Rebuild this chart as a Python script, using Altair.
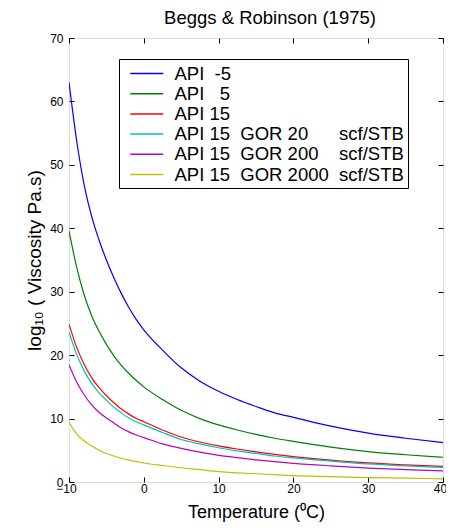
import altair as alt
import pandas as pd

# ---- data ----
temps = [-10, -9, -8, -7, -6, -5, -4, -3, -2, -1, 0, 2.5, 5, 7.5, 10, 12.5, 15, 17.5, 20, 25, 30, 35, 40]

api_m5 = [63.0, 54.0, 47.0, 42.0, 38.2, 35.0, 32.2, 29.7, 27.5, 25.6, 24.0, 20.8, 18.0, 15.9, 14.3, 13.0, 11.9, 10.9, 10.2, 8.8, 7.7, 6.9, 6.2]
api_5 = [39.6, 34.0, 29.6, 26.3, 23.8, 21.7, 19.9, 18.4, 17.1, 16.0, 15.0, 13.0, 11.3, 10.0, 9.0, 8.2, 7.5, 6.9, 6.4, 5.5, 4.8, 4.3, 3.9]
api_15 = [24.9, 21.3, 18.6, 16.5, 14.9, 13.6, 12.5, 11.5, 10.7, 10.0, 9.5, 8.2, 7.1, 6.3, 5.7, 5.2, 4.75, 4.35, 4.0, 3.45, 3.0, 2.7, 2.45]
gor_20 = [23.6, 20.2, 17.6, 15.6, 14.1, 12.9, 11.8, 10.9, 10.1, 9.5, 9.0, 7.8, 6.7, 6.0, 5.4, 4.9, 4.5, 4.1, 3.8, 3.3, 2.85, 2.55, 2.3]
gor_200 = [18.5, 15.8, 13.8, 12.2, 11.0, 10.1, 9.3, 8.5, 7.9, 7.4, 7.0, 6.0, 5.3, 4.7, 4.2, 3.85, 3.5, 3.2, 2.95, 2.55, 2.2, 1.95, 1.75]
gor_2000 = [9.4, 7.6, 6.5, 5.7, 5.0, 4.5, 4.1, 3.75, 3.45, 3.2, 3.0, 2.6, 2.25, 1.95, 1.65, 1.45, 1.3, 1.15, 1.0, 0.85, 0.7, 0.6, 0.5]

NB = "\u00a0"
series_names = [
    "API" + NB * 2 + "-5",
    "API" + NB * 3 + "5",
    "API 15",
    "API 15" + NB * 2 + "GOR 20" + NB * 6 + "scf/STB",
    "API 15" + NB * 2 + "GOR 200" + NB * 4 + "scf/STB",
    "API 15" + NB * 2 + "GOR 2000" + NB * 2 + "scf/STB",
]
series_values = [api_m5, api_5, api_15, gor_20, gor_200, gor_2000]
colors = ["#0000ff", "#008000", "#ff0000", "#00bfbf", "#bf00bf", "#bfbf00"]

x_ticks = [-10, 0, 10, 20, 30, 40]
y_ticks = [0, 10, 20, 30, 40, 50, 60, 70]

rows = []
for name, vals in zip(series_names, series_values):
    for t, v in zip(temps, vals):
        rows.append({"T": t, "V": v, "series": name})
df = pd.DataFrame(rows)

W, H = 374, 444
FONT = "Liberation Sans"
xs = alt.Scale(domain=[-10, 40], nice=False, zero=False)
ys = alt.Scale(domain=[0, 70], nice=False, zero=False)

lines = alt.Chart(df).mark_line(strokeWidth=1.2, interpolate="monotone", clip=True).encode(
    x=alt.X("T:Q", scale=xs, axis=alt.Axis(
        orient="bottom", values=x_ticks, ticks=False, tickSize=0, domain=False, grid=False,
        labelPadding=1, labelFontSize=12, labelFont=FONT, labelColor="black", labelFlush=False,
        labelOffset={"condition": {"test": "datum.value == 40 || datum.value == -10", "value": -3}, "value": 0},
        title="Temperature (\u2070C)", titleFont=FONT, titleFontSize=18, titleFontWeight="normal",
        titleColor="black", titlePadding=9)),
    y=alt.Y("V:Q", scale=ys, axis=alt.Axis(
        orient="left", values=y_ticks, ticks=False, tickSize=0, domain=False, grid=False,
        labelPadding=6, labelFontSize=12, labelFont=FONT, labelColor="black", labelFlush=False,
        title="log\u2081\u2080 ( Viscosity Pa.s)", titleFont=FONT, titleFontSize=19,
        titleFontWeight="normal", titleColor="black", titlePadding=5)),
    color=alt.Color("series:N", sort=series_names,
                    scale=alt.Scale(domain=series_names, range=colors),
                    legend=alt.Legend(
                        title=None, orient="none", legendX=50, legendY=21, direction="vertical",
                        symbolType="M-0.342,0L3.132,0", symbolSize=361, symbolStrokeWidth=1.5,
                        labelFontSize=18.5, labelFont=FONT, labelColor="black", labelOffset=30.5,
                        labelLimit=500, padding=4, rowPadding=0.2,
                        strokeColor="black", fillColor="white")),
)

ghost = alt.Chart(df).mark_point(opacity=0)
ghost1 = ghost.encode(
    x=alt.X("T:Q", scale=xs, axis=alt.Axis(orient="top", offset=-H, values=x_ticks, labels=False,
                                           domain=False, grid=False, tickSize=5, tickColor="black", title=None)),
    y=alt.Y("V:Q", scale=ys, axis=alt.Axis(orient="right", offset=-W, values=y_ticks, labels=False,
                                           domain=False, grid=False, tickSize=5, tickColor="black", title=None)),
)
ghost2 = ghost.encode(
    x=alt.X("T:Q", scale=xs, axis=alt.Axis(orient="bottom", offset=-H, values=x_ticks, labels=False,
                                           domain=False, grid=False, tickSize=5, tickColor="black", title=None)),
    y=alt.Y("V:Q", scale=ys, axis=alt.Axis(orient="left", offset=-W, values=y_ticks, labels=False,
                                           domain=False, grid=False, tickSize=5, tickColor="black", title=None)),
)

chart = alt.layer(lines, ghost1, ghost2).resolve_axis(
    x="independent", y="independent"
).properties(
    width=W, height=H,
    title=alt.Title("Beggs & Robinson (1975)", fontSize=18.5, font=FONT, fontWeight="normal",
                    color="black", dx=14, offset=5),
    autosize=alt.AutoSizeParams(type="none"),
    padding={"left": 61, "top": 30, "right": 3, "bottom": 42},
).configure_view(stroke="black", strokeWidth=1).configure(background="white")

chart.save("out.html", embed_options={"renderer": "svg", "actions": False})
